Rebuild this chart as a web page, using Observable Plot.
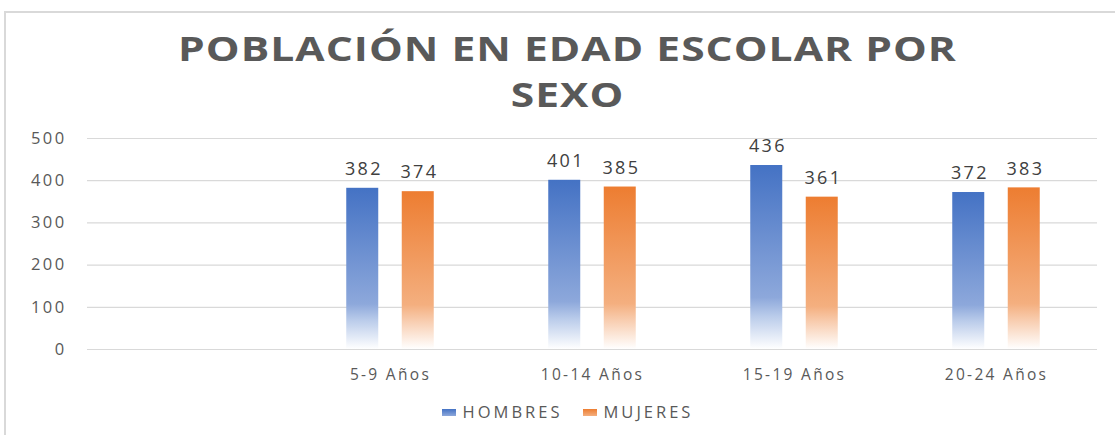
<!DOCTYPE html>
<html>
<head>
<meta charset="utf-8">
<script src="https://cdn.jsdelivr.net/npm/d3@7"></script>
<script src="https://cdn.jsdelivr.net/npm/@observablehq/plot@0.6"></script>
<style>
  body { margin: 0; background: #fff; font-family: "Open Sans", sans-serif; }
  #page { position: relative; width: 1115px; height: 435px; overflow: hidden; }
  #frame { position: absolute; left: 4px; top: 11px; width: 1200px; height: 500px;
           border-left: 2px solid #d9d9d9; border-top: 2px solid #d9d9d9; box-sizing: border-box; }
  .tline { position: absolute; left: 10px; width: 1115px; text-align: center; white-space: nowrap;
           font-weight: 700; font-size: 33.5px; line-height: 44px; letter-spacing: 0.8px; color: #595959;
           transform: scaleX(1.27); transform-origin: 50% 50%; }
  #chart { position: absolute; left: 0; top: 125px; }
  #legend { position: absolute; left: 10px; top: 402px; width: 1115px; display: flex;
            justify-content: center; align-items: center; gap: 20px; line-height: 20px;
            font-size: 16.5px; letter-spacing: 3px; color: #595959; }
  .item { display: flex; align-items: center; gap: 7px; }
  .sw { width: 14px; height: 7px; }
</style>
</head>
<body>
<div id="page">
  <div id="frame"></div>
  <div class="tline" style="top:26px">POBLACIÓN EN EDAD ESCOLAR POR</div>
  <div class="tline" style="top:72px">SEXO</div>
  <div id="chart"></div>
  <div id="legend"></div>
</div>
<script>
// ---- data ----
const ages = ["5-9 Años", "10-14 Años", "15-19 Años", "20-24 Años"];
const slots = ["", ...ages];            // the original has an empty leading category
const hombres = [382, 401, 436, 372];
const mujeres = [374, 385, 361, 383];
const series = ["HOMBRES", "MUJERES"];
const colors = ["#4472C4", "#ED7D31"];
const yTicks = [0, 100, 200, 300, 400, 500];

// ---- styles ----
const barWidth = 32, barOffset = 27.75;
const plotLeft = 87, plotRight = 18, W = 1115;
const band = (W - plotLeft - plotRight) / slots.length;
const inset = (band - barWidth) / 2;

const rowsH = ages.map((a, i) => ({ age: a, value: hombres[i] }));
const rowsM = ages.map((a, i) => ({ age: a, value: mujeres[i] }));

const plot = Plot.plot({
  width: W, height: 270,
  marginLeft: plotLeft, marginRight: plotRight, marginTop: 13, marginBottom: 46,
  style: { fontFamily: "Open Sans, sans-serif", color: "#595959", background: "transparent" },
  x: { domain: slots, padding: 0, label: null },
  y: { domain: [0, 500], label: null },
  marks: [
    Plot.gridY(yTicks, { stroke: "#d9d9d9", strokeOpacity: 1, strokeWidth: 1.2 }),
    Plot.axisY(yTicks, { tickSize: 0, tickPadding: 21, fontSize: 16.5, fill: "#595959", label: null }),
    Plot.axisX({ tickSize: 0, tickPadding: 19, fontSize: 15.5, fill: "#595959", label: null }),
    Plot.barY(rowsH, { x: "age", y: "value", fill: "url(#gradH)", insetLeft: inset, insetRight: inset, dx: -barOffset }),
    Plot.barY(rowsM, { x: "age", y: "value", fill: "url(#gradM)", insetLeft: inset, insetRight: inset, dx: barOffset }),
    Plot.text(rowsH, { x: "age", y: "value", text: d => String(d.value), dx: -barOffset + 1.2, dy: -19, fontSize: 18, fill: "#404040" }),
    Plot.text(rowsM, { x: "age", y: "value", text: d => String(d.value), dx: barOffset + 1.2, dy: -19, fontSize: 18, fill: "#404040" })
  ]
});

// wider type, as in the original
const svg = d3.select(plot);
svg.selectAll('[aria-label="y-axis tick label"] text').style("letter-spacing", "2.4px");
svg.selectAll('[aria-label="x-axis tick label"] text').style("letter-spacing", "2.3px");
svg.selectAll('[aria-label="text"] text').style("letter-spacing", "2.4px");

// gradients (per bar, top -> bottom)
const defs = svg.insert("defs", ":first-child");
const gradSpecs = [
  { id: "gradH", stops: [[0, colors[0]], [0.72, "#8DA8DB"], [0.82, "#B9CBEA"], [1, "#FFFFFF"]] },
  { id: "gradM", stops: [[0, colors[1]], [0.72, "#F4AF7F"], [0.82, "#F8CCAE"], [1, "#FFFFFF"]] }
];
for (const g of gradSpecs) {
  const lg = defs.append("linearGradient").attr("id", g.id).attr("x1", 0).attr("y1", 0).attr("x2", 0).attr("y2", 1);
  for (const [o, c] of g.stops) lg.append("stop").attr("offset", o).attr("stop-color", c);
}
document.getElementById("chart").appendChild(plot);

// legend
const legend = document.getElementById("legend");
series.forEach((s, i) => {
  const it = document.createElement("div"); it.className = "item";
  const sw = document.createElement("div"); sw.className = "sw";
  sw.style.background = `linear-gradient(${colors[i]}, ${i ? "#F4AF7F" : "#8DA8DB"})`;
  const t = document.createElement("span"); t.textContent = s;
  it.appendChild(sw); it.appendChild(t); legend.appendChild(it);
});
</script>
</body>
</html>
